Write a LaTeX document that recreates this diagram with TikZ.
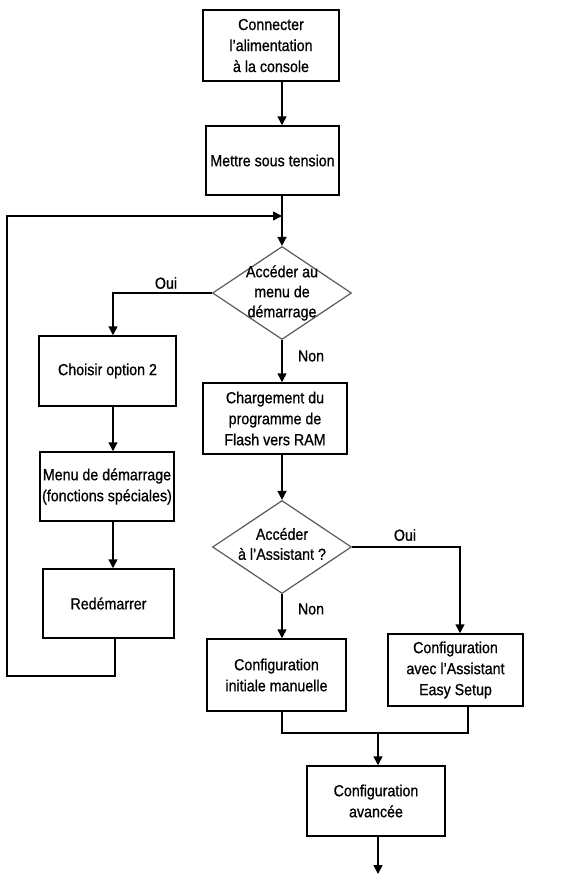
\documentclass[tikz,border=0pt]{standalone}
\usepackage{fontspec}
\setmainfont{Liberation Sans}[FakeStretch=0.89, FakeBold=0.8]
\usetikzlibrary{arrows.meta,shapes.geometric}
\tikzset{
  box/.style={draw=black, line width=1.5pt, rectangle, inner sep=0pt, align=center,
    font=\fontsize{16}{21}\selectfont},
  dec/.style={draw=black!65, line width=1.2pt, diamond, inner sep=0pt,
    minimum width=139pt, minimum height=93pt},
  dtext/.style={align=center, inner sep=0pt, font=\fontsize{16}{20}\selectfont},
  lbl/.style={inner sep=0pt, font=\fontsize{16}{20}\selectfont},
  conn/.style={line width=1.5pt, draw=black},
  arr/.style={conn, -{Triangle[length=9pt,width=9pt]}},
}
\begin{document}
\begin{tikzpicture}[x=1pt,y=-1pt]
\useasboundingbox (0,0) rectangle (585,875);
% boxes
\node[box, minimum width=136pt, minimum height=71pt] (b1) at (271,45.5) {Connecter\\l’alimentation\\à la console};
\node[box, minimum width=133pt, minimum height=69pt] (b2) at (272.5,160.5) {Mettre sous tension};
\node[box, minimum width=137pt, minimum height=70pt] (opt) at (107.5,371) {Choisir option 2};
\node[box, minimum width=134pt, minimum height=69pt] (menu) at (107,486.5) {Menu de démarrage\\(fonctions spéciales)};
\node[box, minimum width=131pt, minimum height=69pt] (redem) at (108.5,603.5) {Redémarrer};
\node[box, minimum width=144pt, minimum height=71pt] (charg) at (275,418.5) {Chargement du\\programme de\\Flash vers RAM};
\node[box, minimum width=139pt, minimum height=72pt] (init) at (276.5,675) {Configuration\\initiale manuelle};
\node[box, minimum width=135pt, minimum height=72pt] (easy) at (455.5,670) {Configuration\\avec l’Assistant\\Easy Setup};
\node[box, minimum width=138pt, minimum height=70pt] (adv) at (376,801) {Configuration\\avancée};
% diamonds
\node[dec] (d1) at (282,293) {};
\node[dtext] (d1t) at (282,293) {Accéder au\\menu de\\démarrage};
\node[dec] (d2) at (282,547) {};
\node[dtext] (d2t) at (282,544) {Accéder\\à l’Assistant ?};
% labels
\node[lbl] (oui1) at (166,283) {Oui};
\node[lbl] (non1) at (311,356) {Non};
\node[lbl] (oui2) at (405,535) {Oui};
\node[lbl] (non2) at (311,609) {Non};
% coordinates
\coordinate (j1) at (282,216);
\coordinate (l1) at (115,676);
\coordinate (l2) at (7,676);
\coordinate (l3) at (7,216);
\coordinate (c1) at (113,293);
\coordinate (c2) at (460,547);
\coordinate (m1) at (282,733);
\coordinate (m2) at (468,733);
\coordinate (m3) at (378,733);
\coordinate (e1) at (378,874);
% connectors
\draw[arr] (d1.north |- b1.south) -- (d1.north |- b2.north);
\draw[arr] (d1.north |- b2.south) -- (d1.north);
\draw[arr] (redem.south -| l1) -- (l1) -- (l2) -- (l3) -- (j1);
\draw[arr] (d1.west) -- (c1) -- (c1 |- opt.north);
\draw[arr] (d1.south) -- (d1.south |- charg.north);
\draw[arr] (d2.north |- charg.south) -- (d2.north);
\draw[arr] (d2.east) -- (c2) -- (c2 |- easy.north);
\draw[arr] (d2.south) -- (d2.south |- init.north);
\draw[arr] (opt.south -| c1) -- (c1 |- menu.north);
\draw[arr] (menu.south -| c1) -- (c1 |- redem.north);
\draw[conn] (m1 |- init.south) -- (m1) -- (m2) -- (m2 |- easy.south);
\draw[arr] (m3) -- (m3 |- adv.north);
\draw[arr] (m3 |- adv.south) -- (e1);
\end{tikzpicture}
\end{document}
